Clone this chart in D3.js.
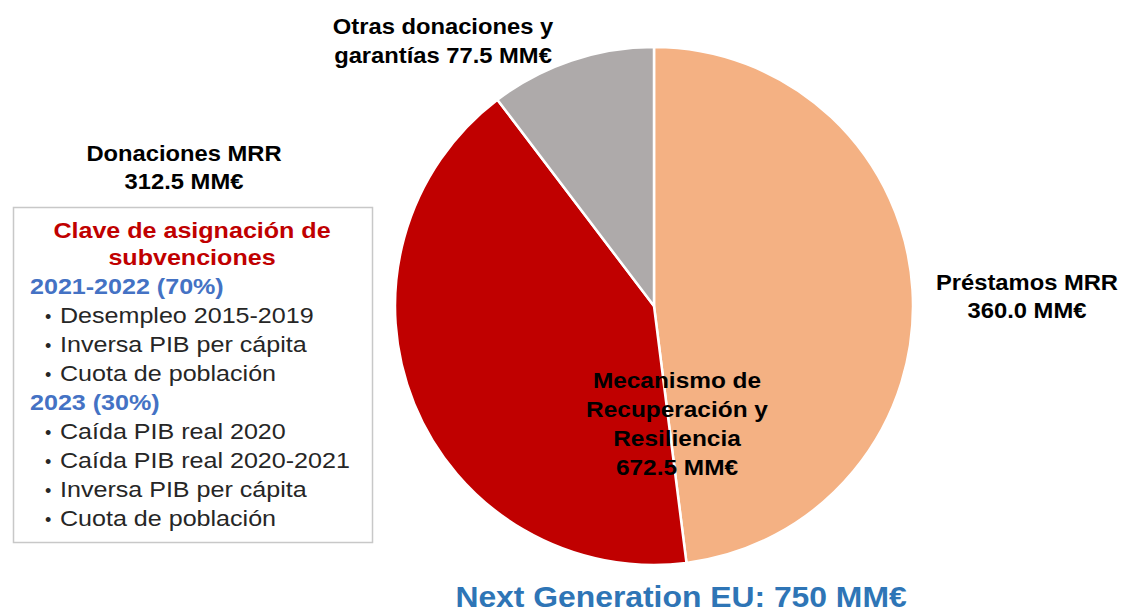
<!DOCTYPE html>
<html>
<head>
<meta charset="utf-8">
<script src="https://cdn.jsdelivr.net/npm/d3@7"></script>
<style>
  html, body { margin: 0; padding: 0; background: #fff; }
  svg { display: block; font-family: "Liberation Sans", Arial, sans-serif; }
</style>
</head>
<body>
<svg id="chart" width="1123" height="614"></svg>
<script>
// ---- Data ----
const categories = ["Préstamos MRR", "Donaciones MRR", "Otras donaciones y garantías"];
const values = [360.0, 312.5, 77.5];
const sliceColors = ["#F4B183", "#C00000", "#AEAAAA"];
const sliceLabels = [
  ["Préstamos MRR", "360.0 MM€"],
  ["Donaciones MRR", "312.5 MM€"],
  ["Otras donaciones y", "garantías 77.5 MM€"]
];
const mrrLabel = ["Mecanismo de", "Recuperación y", "Resiliencia", "672.5 MM€"];
const chartTitle = "Next Generation EU: 750 MM€";
const legendTitle = ["Clave de asignación de", "subvenciones"];
const legendGroups = [
  { header: "2021-2022 (70%)", items: ["Desempleo 2015-2019", "Inversa PIB per cápita", "Cuota de población"] },
  { header: "2023 (30%)", items: ["Caída PIB real 2020", "Caída PIB real 2020-2021", "Inversa PIB per cápita", "Cuota de población"] }
];

// ---- Layout ----
const svg = d3.select("#chart");
const cx = 654, cy = 306, R = 259;
const SX = 1.08;

const pie = d3.pie().sort(null).value(d => d)(values);
const arc = d3.arc().innerRadius(0).outerRadius(R);

const g = svg.append("g").attr("transform", `translate(${cx},${cy})`);
g.selectAll("path").data(pie).join("path")
  .attr("d", arc)
  .attr("fill", (d, i) => sliceColors[i])
  .attr("stroke", "#fff")
  .attr("stroke-width", 2.5)
  .attr("stroke-linejoin", "round");

function textBlock(lines, x, y0, step, opts) {
  lines.forEach((t, i) => {
    svg.append("text")
      .attr("transform", `translate(${x},${y0 + i * step}) scale(${opts.sx || SX},1)`)
      .attr("text-anchor", opts.anchor || "middle")
      .attr("font-size", opts.size || 22)
      .attr("font-weight", opts.weight || "bold")
      .attr("fill", opts.fill || "#000")
      .text(t);
  });
}

// Slice labels
textBlock(sliceLabels[0], 1027, 290, 28, {});
textBlock(sliceLabels[1], 184, 161, 28, {});
textBlock(sliceLabels[2], 443, 34, 29, {});
textBlock(mrrLabel, 677, 388, 29, { sx: 1.11 });

// Title
textBlock([chartTitle], 681, 607, 0, { size: 29.5, fill: "#2E75B6", sx: 1.08 });

// Legend box
svg.append("rect")
  .attr("x", 13.5).attr("y", 207.5)
  .attr("width", 359).attr("height", 335)
  .attr("fill", "#fff")
  .attr("stroke", "#C8C8C8").attr("stroke-width", 1.5);

const LSX = 1.14;
textBlock(legendTitle, 192, 238, 27, { fill: "#C00000", sx: LSX });

let y = 294;
legendGroups.forEach(grp => {
  textBlock([grp.header], 30, y, 0, { anchor: "start", fill: "#4472C4", sx: LSX });
  y += 29;
  grp.items.forEach(it => {
    textBlock(["•"], 45, y, 0, { anchor: "start", weight: "normal", fill: "#262626", size: 18, sx: 1 });
    textBlock([it], 60, y, 0, { anchor: "start", weight: "normal", fill: "#262626", sx: LSX });
    y += 29;
  });
});
</script>
</body>
</html>
